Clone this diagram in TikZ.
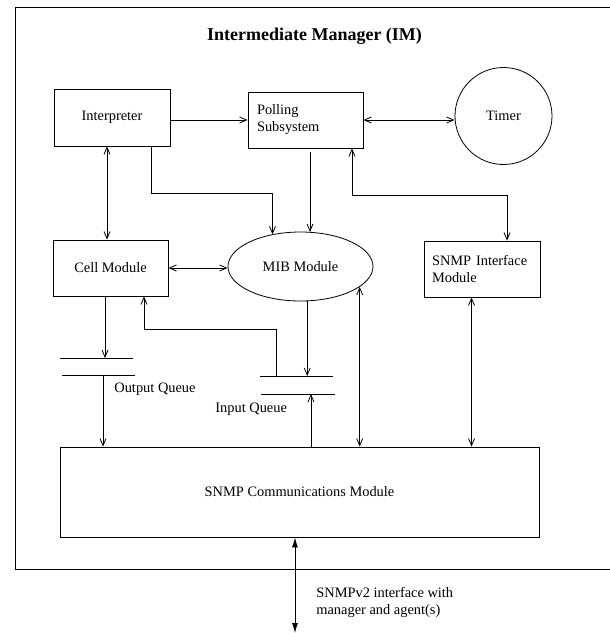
\documentclass[tikz,border=0pt]{standalone}
\usepackage{fontspec}
\setmainfont{Liberation Serif}
\usetikzlibrary{arrows.meta,shapes.geometric,calc}
\begin{document}
\begin{tikzpicture}[x=1pt,y=-1pt,
  every node/.style={font=\fontsize{14.4}{17}\selectfont},
  box/.style={draw,rectangle,inner sep=0pt,line width=0.8pt},
  lbl/.style={anchor=west,inner sep=0pt,align=left},
  every path/.style={line width=0.8pt},
  >={Straight Barb[length=7pt,width=6pt]},
  ext/.style={{Latex[length=10pt,width=6pt]}-{Latex[length=10pt,width=6pt]}}
]
\useasboundingbox (0,0) rectangle (610,633);
% outer frame
\draw[line width=0.9pt] (610,7) -- (15,7) -- (15,569) -- (610,569);

\node[font=\bfseries\fontsize{18}{22}\selectfont] (title) at (314.5,36) {Intermediate Manager (IM)};

\node[box, minimum width=116pt, minimum height=57pt] (interp) at (112,117.5) {Interpreter};
\node[box, minimum width=115pt, minimum height=56pt, align=left, text width=97pt, inner xsep=9pt] (poll) at (305.5,120) {Polling\\Subsystem};
\node[draw, circle, minimum size=97pt, inner sep=0pt] (timer) at (503.5,116) {Timer};
\node[box, minimum width=115pt, minimum height=56pt] (cell) at (110.5,268) {Cell Module};
\node[draw, ellipse, minimum width=145pt, minimum height=69pt, inner sep=0pt] (mib) at (300.5,266.5) {MIB Module};
\node[box, minimum width=116pt, minimum height=56pt, align=left, text width=100pt, inner xsep=8pt] (snmpi) at (482,269) {SNMP Interface\\Module};
\node[box, minimum width=479pt, minimum height=90pt] (comm) at (299.5,492) {SNMP Communications Module};

\node[lbl] (oql) at (114,389) {Output Queue};
\node[lbl] (iql) at (215,409) {Input Queue};
\node[lbl] (extl) at (316,602) {SNMPv2 interface with\\manager and agent(s)};

% queues
\coordinate (oqA) at (60,358); \coordinate (oqB) at (133,358);
\coordinate (oqC) at (62,375); \coordinate (oqD) at (135,375);
\coordinate (iqA) at (260,376); \coordinate (iqB) at (333,376);
\coordinate (iqC) at (261,394); \coordinate (iqD) at (335,394);
\draw (oqA) -- (oqB);
\draw (oqC) -- (oqD);
\draw (iqA) -- (iqB);
\draw (iqC) -- (iqD);
\coordinate (oqOut) at (103,375);
\coordinate (iqTap) at (276,376);
\coordinate (iqIn) at (311,394);
\coordinate (extEnd) at (295,633);

% connectors
\draw[->] (interp.east |- poll.west) -- (poll.west);
\draw[<->] (poll.east) -- (poll.east -| timer.west);
\draw[<->] ([xshift=-5pt]interp.south) -- ([xshift=-5pt]interp.south |- cell.north);
\draw[->] ([xshift=39pt]interp.south) -- ++(0,47) -| (mib.131);
\draw[->] ([xshift=4.5pt,yshift=-4pt]poll.south) -- ([xshift=4.5pt]poll.south |- mib.74);
\draw[<->] ([xshift=46.5pt]poll.south) -- ++(0,47) -| ([xshift=25pt]snmpi.north);
\draw[<->] (cell.east) -- (cell.east -| mib.west);
\draw[->] ([xshift=-5.5pt]cell.south) -- ([xshift=-5.5pt]cell.south |- oqA);
\draw[->] (oqOut) -- (oqOut |- comm.north);
\draw[->] (mib.-79) -- (mib.-79 |- iqA);
\draw[->] (iqTap) -- ++(0,-47) -| ([xshift=33.5pt]cell.south);
\draw[->] (iqIn |- comm.north) -- (iqIn);
\draw[<->] (mib.-19.5 |- comm.north) -- (mib.-19.5);
\draw[<->] ([xshift=-10.5pt]snmpi.south |- comm.north) -- ([xshift=-10.5pt]snmpi.south);
\draw[ext] (comm.south -| extEnd) -- (extEnd);
\end{tikzpicture}
\end{document}
